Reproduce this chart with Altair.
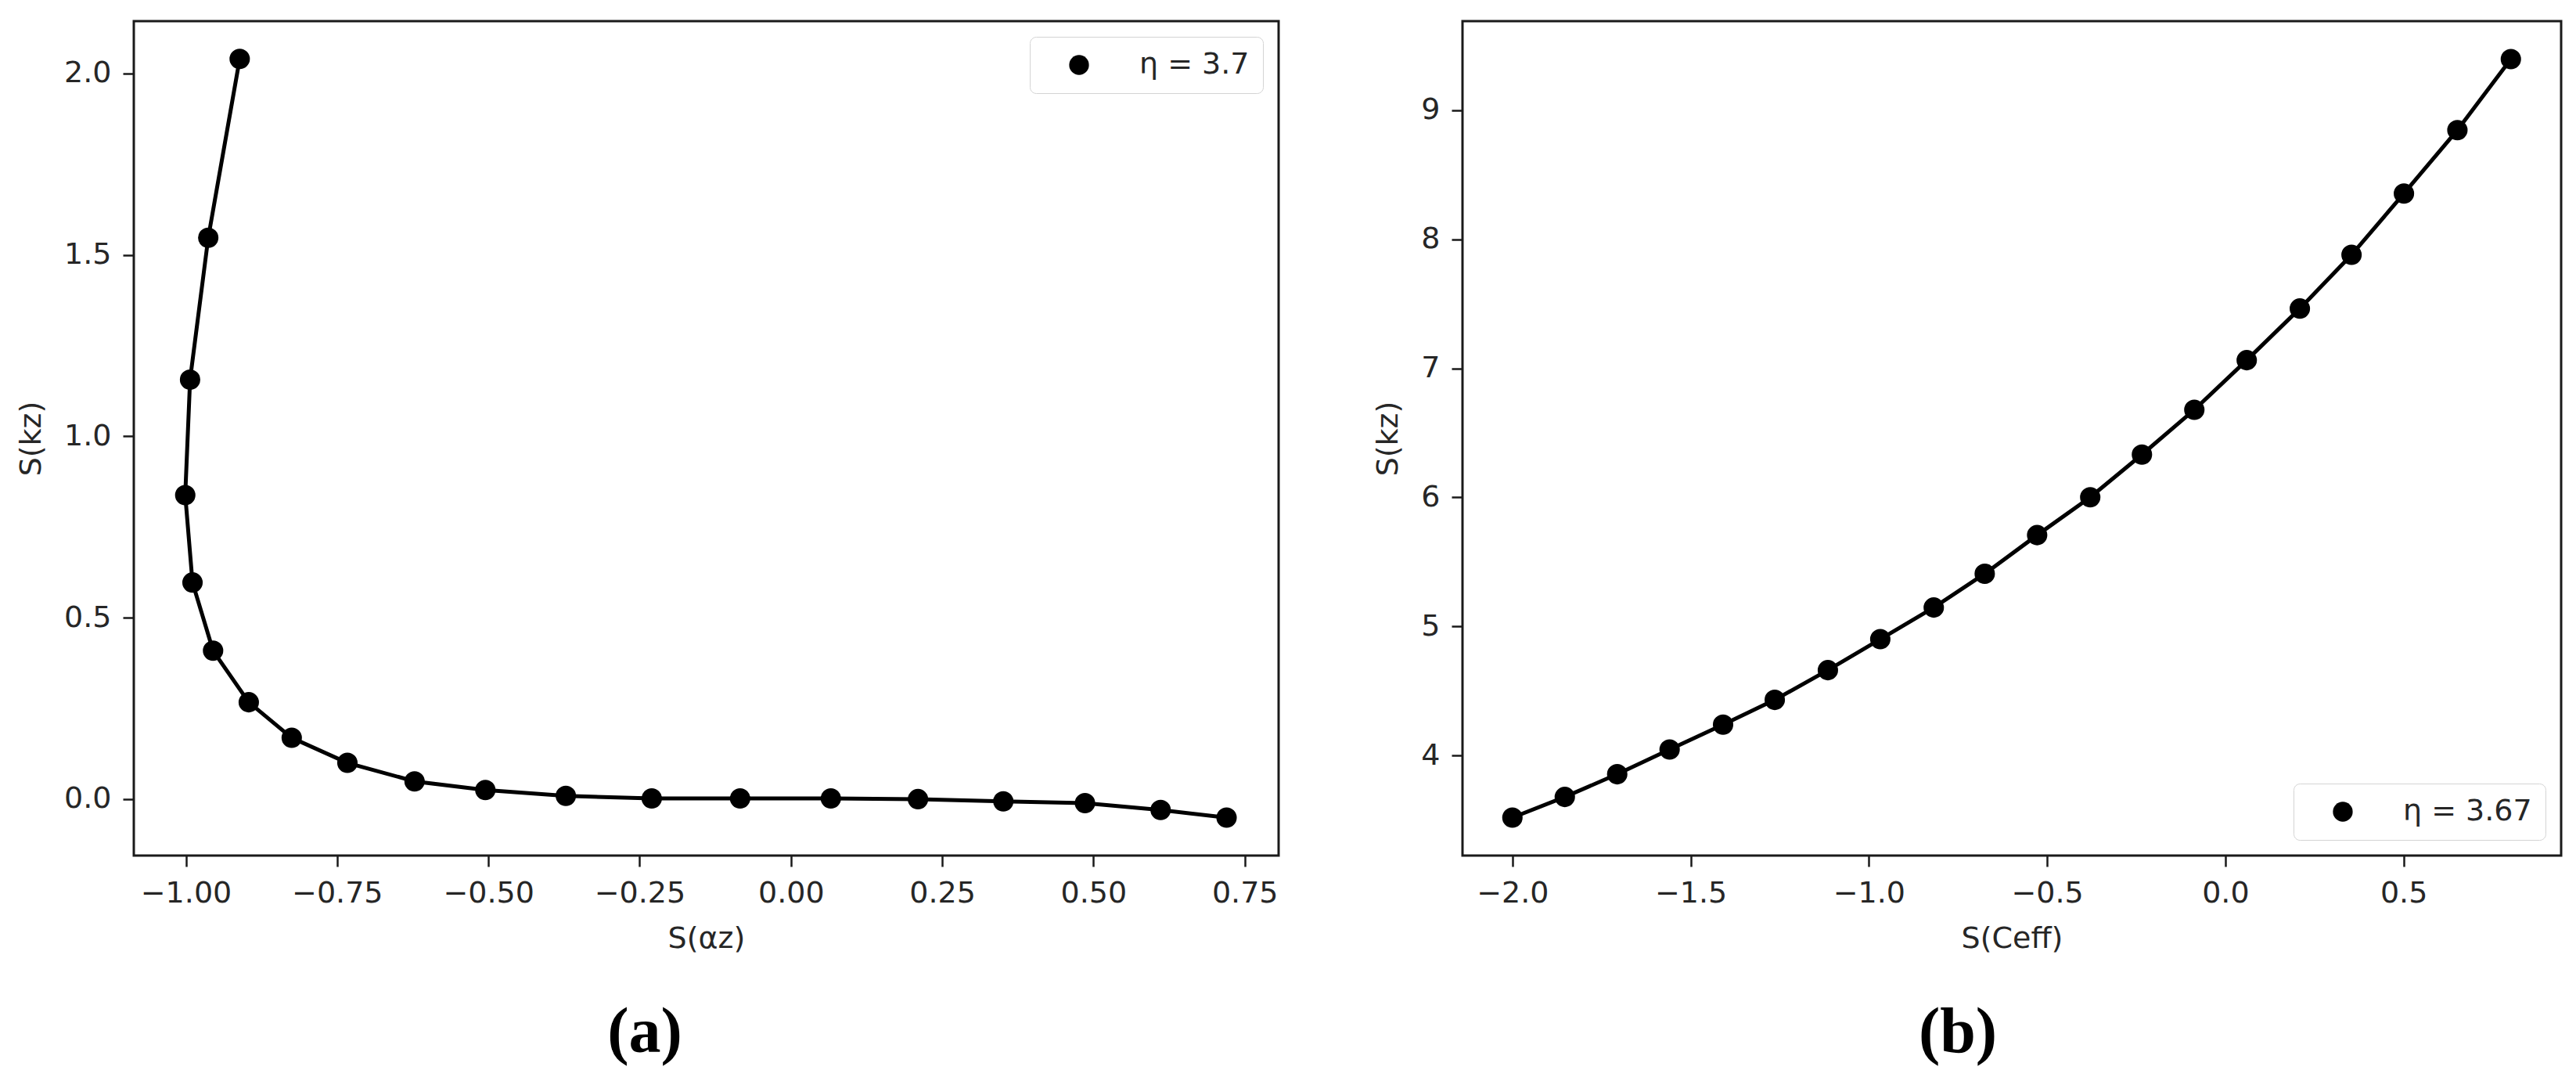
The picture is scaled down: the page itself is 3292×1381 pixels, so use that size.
import altair as alt
import pandas as pd

# ---- data ----
a_x = [-0.911, -0.963, -0.993, -1.001, -0.989, -0.955, -0.896, -0.825, -0.733, -0.622,
       -0.505, -0.372, -0.230, -0.084, 0.066, 0.210, 0.351, 0.486, 0.611, 0.720]
a_y = [2.040, 1.547, 1.156, 0.838, 0.597, 0.409, 0.267, 0.169, 0.100, 0.049,
       0.025, 0.009, 0.002, 0.002, 0.002, 0.000, -0.006, -0.011, -0.030, -0.051]
a_label = "η = 3.7"

b_x = [-2.000, -1.853, -1.706, -1.559, -1.409, -1.264, -1.115, -0.968, -0.818, -0.675,
       -0.528, -0.379, -0.234, -0.087, 0.060, 0.209, 0.354, 0.501, 0.651, 0.801]
b_y = [3.520, 3.680, 3.856, 4.048, 4.240, 4.432, 4.662, 4.902, 5.147, 5.409,
       5.708, 6.001, 6.332, 6.679, 7.063, 7.463, 7.879, 8.354, 8.845, 9.395]
b_label = "η = 3.67"

a_xticks = [-1.0, -0.75, -0.5, -0.25, 0.0, 0.25, 0.5, 0.75]
a_yticks = [0.0, 0.5, 1.0, 1.5, 2.0]
b_xticks = [-2.0, -1.5, -1.0, -0.5, 0.0, 0.5]
b_yticks = [4, 5, 6, 7, 8, 9]

df_a = pd.DataFrame({"i": range(len(a_x)), "x": a_x, "y": a_y, "label": a_label})
df_b = pd.DataFrame({"i": range(len(b_x)), "x": b_x, "y": b_y, "label": b_label})

FONT = "DejaVu Sans"
TXT = "#262626"
FS = 38


def axis(title, values, fmt, tpad):
    return alt.Axis(title=title, values=values, format=fmt, grid=False, domain=False,
                    tickSize=14, tickWidth=2.5, tickColor="#1a1a1a",
                    labelPadding=15, labelFontSize=FS, labelFont=FONT, labelColor=TXT,
                    titleFontSize=FS, titleFont=FONT, titleFontWeight="normal",
                    titleColor=TXT, titlePadding=tpad)


def panel(df, xdom, ydom, xt, yt, xfmt, yfmt, xtitle, ytitle, legend_orient,
          caption, cap_x, cap_y, w, h):
    base = alt.Chart(df)
    x = alt.X("x:Q", scale=alt.Scale(domain=xdom, nice=False, zero=False),
              axis=axis(xtitle, xt, xfmt, 20))
    y = alt.Y("y:Q", scale=alt.Scale(domain=ydom, nice=False, zero=False),
              axis=axis(ytitle, yt, yfmt, 22))
    line = base.mark_line(color="black", strokeWidth=5).encode(x=x, y=y, order="i:Q")
    pts = base.mark_circle(size=680, opacity=1).encode(
        x=x, y=y,
        color=alt.Color("label:N", scale=alt.Scale(range=["black"]),
                        legend=alt.Legend(title=None, orient=legend_orient, offset=20,
                                          labelFontSize=FS, labelFont=FONT, labelColor=TXT,
                                          labelLimit=0,
                                          symbolSize=640, symbolType="circle",
                                          symbolStrokeWidth=0,
                                          symbolOffset=27, labelOffset=58, padding=17,
                                          strokeColor="#d4d4d4", fillColor="white",
                                          cornerRadius=8)))
    cap = alt.Chart(pd.DataFrame({"t": [caption]})).mark_text(
        font="Liberation Serif", fontWeight="bold", fontSize=82, color="black",
        align="center", baseline="middle").encode(
        text="t:N", x=alt.value(cap_x), y=alt.value(cap_y))
    return alt.layer(line, pts, cap).properties(width=w, height=h)


left = panel(df_a, [-1.086, 0.806], [-0.1555, 2.144], a_xticks, a_yticks, ".2f", ".1f",
             "S(αz)", "S(kz)", "top-right", "(a)", 653, 1292, 1463, 1066)
right = panel(df_b, [-2.14, 0.942], [3.226, 9.689], b_xticks, b_yticks, ".1f", "d",
              "S(Ceff)", "S(kz)", "bottom-right", "(b)", 633, 1292, 1404, 1066)

chart = alt.hconcat(left, right, spacing=118).resolve_scale(color="independent") \
    .properties(padding={"left": 12, "top": 17, "right": 5, "bottom": 5},
                background="white") \
    .configure_view(stroke="#1a1a1a", strokeWidth=3)

chart.save("out.html", embed_options={"renderer": "svg", "actions": False})
